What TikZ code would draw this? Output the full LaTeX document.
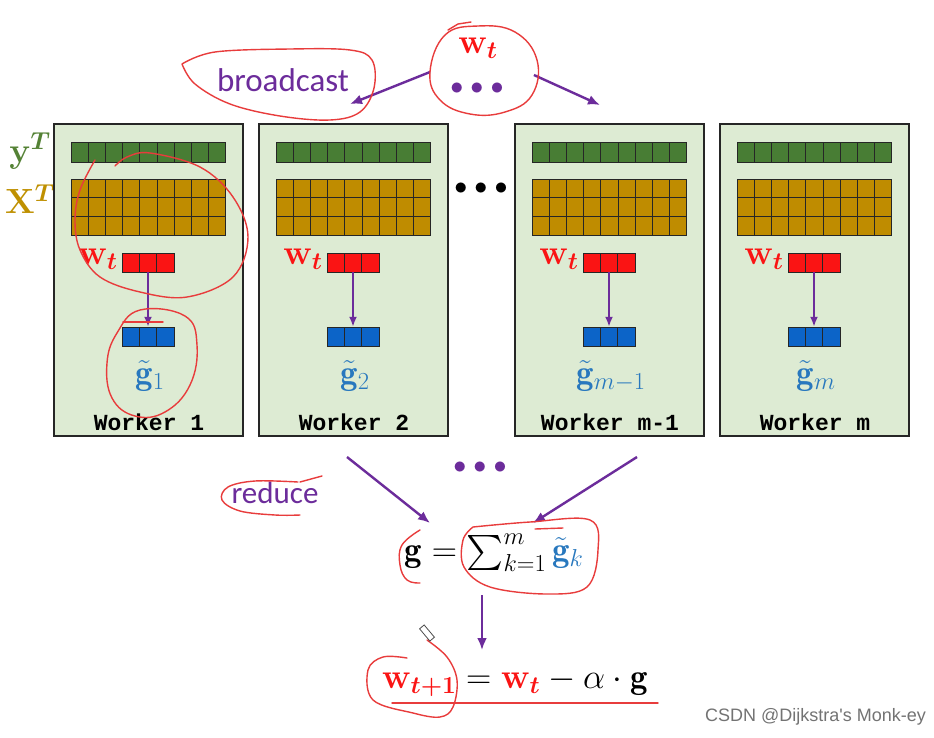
\RequirePackage{fix-cm}
\documentclass[tikz,border=0pt]{standalone}
\usepackage{amsmath,amssymb}
\usepackage{fontspec}
\newfontfamily\labelfont{Carlito}
\newfontfamily\workerfont{Liberation Mono}
\newfontfamily\markfont{Liberation Sans}
\usetikzlibrary{arrows.meta,positioning}
\definecolor{boxgreen}{RGB}{221,235,211}
\definecolor{bargreen}{RGB}{72,125,52}
\definecolor{matgold}{RGB}{191,140,0}
\definecolor{vecred}{RGB}{250,20,20}
\definecolor{vecblue}{RGB}{12,100,200}
\definecolor{gblue}{RGB}{40,120,190}
\definecolor{arrpurple}{RGB}{108,44,155}
\definecolor{inkred}{RGB}{232,60,60}
\definecolor{labgreen}{RGB}{84,130,53}
\definecolor{labgold}{RGB}{191,144,0}

\begin{document}
\begin{tikzpicture}[x=1pt,y=-1pt,
  workerbox/.style={draw=black!85, line width=1.5pt, fill=boxgreen, minimum width=189pt, minimum height=312pt, inner sep=0pt},
  cell/.style={draw=black!85, line width=0.9pt},
  vecbox/.style={minimum width=52pt, minimum height=19pt, inner sep=0pt},
  flow/.style={-{Latex[length=10pt,width=8pt]}, draw=arrpurple, line width=2pt},
  bigflow/.style={-{Latex[length=12pt,width=10pt]}, draw=arrpurple, line width=2.4pt},
  mathlab/.style={font=\fontsize{35}{40}\selectfont, inner sep=0pt},
  dotrow/.style={font=\fontsize{26}{30}\selectfont, inner sep=0pt},
  wname/.style={font=\workerfont\bfseries\fontsize{23}{26}\selectfont, inner sep=0pt},
  ink/.style={draw=inkred, line width=1.4pt, line cap=round, line join=round}]
\fill[white] (0,0) rectangle (934,737);
\useasboundingbox (0,0) rectangle (934,737);

% row labels
\node[mathlab, text=labgreen] (ylab) at (30,151) {$\boldsymbol{\mathbf{y}^T}$};
\node[mathlab, text=labgold] (xlab) at (30,199) {$\boldsymbol{\mathbf{X}^T}$};

% workers
\foreach \x/\id/\lab/\sub in {54/wa/1/1, 259/wb/2/2, 515/wc/m-1/{m-1}, 720/wd/m/m} {
  \node[workerbox] (\id) at (\x+94.5,280) {};
  \foreach \i in {0,...,8}
    \filldraw[cell, fill=bargreen] (\x+17+\i*17.2,142) rectangle ++(17.2,20);
  \foreach \i in {0,...,8}
    \foreach \j in {0,1,2}
      \filldraw[cell, fill=matgold] (\x+17+\i*17.2,179+\j*18.7) rectangle ++(17.2,18.7);
  \node[vecbox] (\id-w) at (\x+94,262.5) {};
  \node[vecbox] (\id-g) at (\x+94,336.5) {};
  \foreach \i in {0,1,2} {
    \filldraw[cell, fill=vecred] (\x+68+\i*17.33,253) rectangle ++(17.33,19);
    \filldraw[cell, fill=vecblue] (\x+68+\i*17.33,327) rectangle ++(17.33,19);
  }
  \draw[flow] (\id-w.south) -- (\id-g.north);
  \node[mathlab, text=vecred] (\id-wl) at (\x+44,259) {$\boldsymbol{\mathbf{w}_t}$};
  \node[mathlab, text=gblue] (\id-gl) at (\x+96,376) {$\tilde{\mathbf{g}}_{\sub}$};
  \node[wname] (\id-n) at (\x+95,422) {Worker \lab};
}
\node[dotrow] (middots) at (481,189) {$\bullet\mkern1mu\bullet\mkern1mu\bullet$};

% broadcast
\node[mathlab, text=vecred] (wtop) at (478,48) {$\boldsymbol{\mathbf{w}_t}$};
\node[dotrow, text=arrpurple] (topdots) at (477,89) {$\bullet\mkern1mu\bullet\mkern1mu\bullet$};
\node[font=\labelfont\fontsize{33}{36}\selectfont, text=arrpurple, inner sep=0pt] (bcast) at (283,80) {broadcast};
\coordinate (bcl) at (350,104);
\coordinate (bcr) at (600,105);
\draw[bigflow] ([shift={(-20,-17)}]topdots.west) -- (bcl);
\draw[bigflow] ([shift={(30,-14)}]topdots.east) -- (bcr);

% reduce
\node[dotrow, text=arrpurple] (botdots) at (480,468) {$\bullet\mkern1mu\bullet\mkern1mu\bullet$};
\node[font=\labelfont\fontsize{31}{34}\selectfont, text=arrpurple, inner sep=0pt] (reduce) at (275,493) {reduce};
\node[mathlab] (gsum) at (494,553) {$\mathbf{g}=\sum_{k=1}^{m}{\color{gblue}\tilde{\mathbf{g}}_k}$};
\node[mathlab] (wnew) at (515,682) {${\color{vecred}\boldsymbol{\mathbf{w}_{t+1}}} = {\color{vecred}\boldsymbol{\mathbf{w}_t}} - \alpha\cdot\mathbf{g}$};
\coordinate (rdl) at (347,457);
\coordinate (rdr) at (637,457);
\draw[bigflow] (rdl) -- (430,523);
\draw[bigflow] (rdr) -- (533,523);
\draw[bigflow] (482,595) -- (482,650);

% hand-drawn marks
\draw[ink] plot[smooth, tension=0.6] coordinates {(182,64) (215,52) (290,49) (350,50) (372,60) (374,88) (360,112) (330,120) (280,116) (230,104) (195,84) (182,64)};
\draw[ink] plot[smooth cycle, tension=0.7] coordinates {(445,35) (478,26) (515,32) (537,60) (532,95) (505,112) (470,114) (440,100) (430,72)};
\draw[ink] (448,30) -- (458,24) -- (471,22);
\draw[ink] plot[smooth, tension=0.6] coordinates {(95,160) (80,190) (75,220) (80,250) (100,277) (140,292) (187,297) (233,277) (248,237) (233,197) (200,167) (150,153) (127,157) (115,166)};
\draw[ink] plot[smooth cycle, tension=0.7] coordinates {(140,310) (185,316) (197,345) (190,385) (165,412) (135,416) (112,398) (107,363) (117,333)};
\draw[ink] (123,322) -- (163,322);
\draw[ink] plot[smooth, tension=0.6] coordinates {(298,482) (255,481) (228,487) (222,500) (240,511) (275,515) (300,515)};
\draw[ink] (300,482) -- (322,476);
\draw[ink] plot[smooth, tension=0.7] coordinates {(420,530) (402,545) (400,565) (407,580) (420,583)};
\draw[ink] plot[smooth, tension=0.6] coordinates {(473,527) (530,522) (590,520) (598,550) (587,587) (547,594) (490,587) (464,567) (463,540) (473,527)};
\draw[ink] (535,529) -- (563,528);
\draw[ink] plot[smooth, tension=0.6] coordinates {(427,640) (447,657) (457,680) (453,707) (440,717) (413,713) (373,700) (368,670) (383,657) (407,658)};
\draw[ink] (392,703) -- (658,703);
\draw[black!70, line width=0.8pt, rotate around={-50:(427,633)}] (419,630) rectangle (435,636);

% watermark
\node[font=\markfont\fontsize{18}{20}\selectfont, text=black!55, anchor=east, inner sep=0pt] (mark) at (926,717) {CSDN @Dijkstra's Monk-ey};
\end{tikzpicture}
\end{document}
